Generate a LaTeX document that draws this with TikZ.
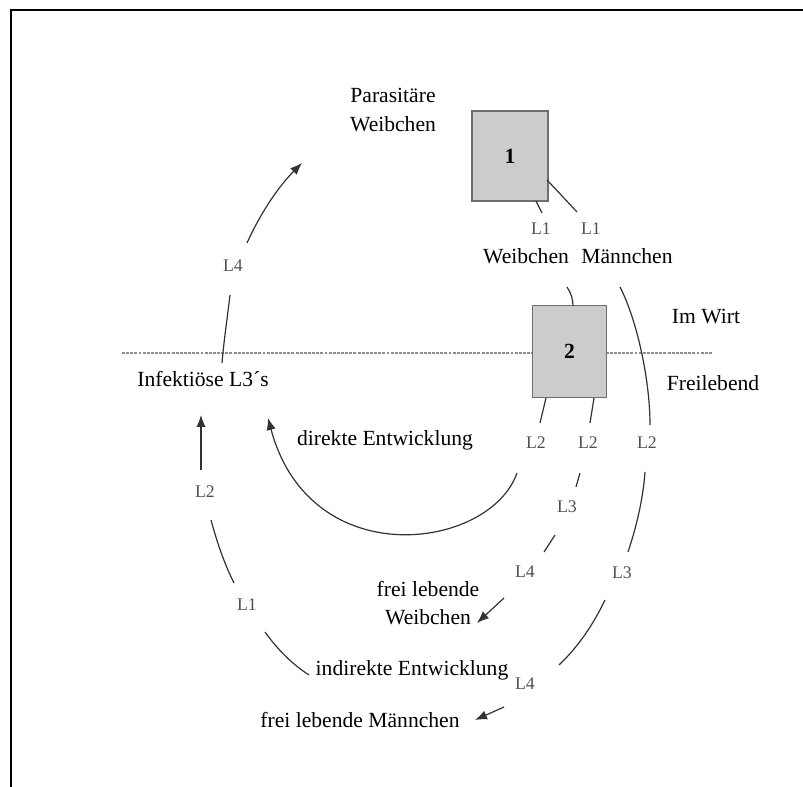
\documentclass[tikz,border=0pt]{standalone}
\usepackage{fontspec}
\setmainfont{Liberation Serif}
\usetikzlibrary{arrows.meta}
\definecolor{boxgray}{RGB}{204,204,204}
\definecolor{edgegray}{RGB}{110,110,110}
\definecolor{labgray}{RGB}{80,80,80}
\definecolor{linegray}{RGB}{50,50,50}
\definecolor{dotgray}{RGB}{140,140,140}
\begin{document}
\begin{tikzpicture}[x=0.75pt,y=-0.75pt,
 txt/.style={font=\fontsize{16.2}{21.5}\selectfont, align=center, inner sep=0pt},
 lab/.style={font=\fontsize{13.3}{15}\selectfont, text=labgray, inner sep=0pt},
 box/.style={draw=edgegray, fill=boxgray, line width=0.9pt, inner sep=0pt, font=\fontsize{16.2}{19}\selectfont\bfseries},
 conn/.style={draw=linegray, line width=0.9pt},
 arr/.style={conn, -{Latex[length=9pt,width=7pt]}},
 frame/.style={line width=1.5pt},
 sep/.style={draw=dotgray, line width=1.5pt, dash pattern=on 2.2pt off 0.9pt}]

\useasboundingbox (0,0) rectangle (803,787);
\draw[frame] (10.5,787) -- (10.5,10.3) -- (803,10.3);

% host / free-living separator
\coordinate (sepL) at (122,353.5);
\coordinate (sepR) at (713,353.5);
\draw[sep] (sepL) -- (sepR);

% boxes
\node[box, minimum width=57pt, minimum height=67.5pt] (box1) at (510,156) {1};
\node[box, minimum width=56pt, minimum height=69pt] (box2) at (569.5,351.5) {2};

% texts
\node[txt] (paras) at (393,110) {Parasitäre\\Weibchen};
\node[lab] (l1w) at (541,229) {L1};
\node[lab] (l1m) at (591,229) {L1};
\node[txt] (weib) at (526,256) {Weibchen};
\node[txt] (maenn) at (627,256) {Männchen};
\node[txt] (imwirt) at (706,317) {Im Wirt};
\node[txt] (freileb) at (713,383) {Freilebend};
\node[txt] (infekt) at (203,379) {Infektiöse L3´s};
\node[txt] (direkt) at (385,440) {direkte Entwicklung};
\node[lab] (l4l) at (233,266) {L4};
\node[lab] (l2l) at (205,492) {L2};
\node[lab] (l1l) at (247,605) {L1};
\node[txt] (indir) at (412,670) {indirekte Entwicklung};
\node[lab] (l2a) at (536,443) {L2};
\node[lab] (l2b) at (588,443) {L2};
\node[lab] (l2c) at (647,443) {L2};
\node[lab] (l3m) at (567,507) {L3};
\node[lab] (l4m) at (525,572) {L4};
\node[txt] (freiw) at (428,603) {frei lebende\\Weibchen};
\node[lab] (l3r) at (622,573) {L3};
\node[lab] (l4b) at (525,684) {L4};
\node[txt] (freim) at (360,720) {frei lebende Männchen};

% connector end points
\coordinate (b1a) at (536,201);
\coordinate (b1b) at (542,213);
\coordinate (b1c) at (547,180);
\coordinate (b1d) at (577,212);
\coordinate (wa) at (567,287);
\coordinate (b2t) at (573,306);
\coordinate (ma) at (620,287);
\coordinate (mb) at (650,425);
\coordinate (b2a) at (546,398);
\coordinate (b2b) at (540,423);
\coordinate (b2c) at (594,398);
\coordinate (b2d) at (590,423);
\coordinate (ra) at (645,472);
\coordinate (rb) at (628,552);
\coordinate (rc) at (605,600);
\coordinate (rd) at (559,665);
\coordinate (re) at (504,707);
\coordinate (rf) at (475,720);
\coordinate (ma1) at (580,473);
\coordinate (ma2) at (576,487);
\coordinate (ma3) at (555,535);
\coordinate (ma4) at (544,552);
\coordinate (ma5) at (504,598);
\coordinate (ma6) at (477,623);
\coordinate (da) at (517,473);
\coordinate (db) at (268,418);
\coordinate (la) at (201,470);
\coordinate (lb) at (201,415);
\coordinate (lc) at (211,520);
\coordinate (ld) at (234,583);
\coordinate (le) at (265,632);
\coordinate (lf) at (309,675);
\coordinate (ua) at (222,363);
\coordinate (ub) at (230,295);
\coordinate (uc) at (247,243);
\coordinate (ud) at (302,163);

% connectors
\draw[conn] (b1a) -- (b1b);
\draw[conn] (b1c) -- (b1d);
\draw[conn] (wa) .. controls (571,293) and (573,299) .. (b2t);
\draw[conn] (ma) .. controls (637,320) and (650,380) .. (mb);
\draw[conn] (b2a) -- (b2b);
\draw[conn] (b2c) -- (b2d);
\draw[conn] (ra) .. controls (643,500) and (636,528) .. (rb);
\draw[conn] (rc) .. controls (593,625) and (578,647) .. (rd);
\draw[arr] (re) -- (rf);
\draw[conn] (ma1) -- (ma2);
\draw[conn] (ma3) -- (ma4);
\draw[arr] (ma5) -- (ma6);
\draw[arr] (da) .. controls (490,550) and (310,575) .. (db);
\draw[arr] (la) -- (lb);
\draw[conn] (lc) .. controls (217,542) and (224,563) .. (ld);
\draw[conn] (le) .. controls (278,650) and (292,664) .. (lf);
\draw[conn] (ua) .. controls (224,340) and (227,320) .. (ub);
\draw[arr] (uc) .. controls (262,210) and (280,185) .. (ud);
\end{tikzpicture}
\end{document}
